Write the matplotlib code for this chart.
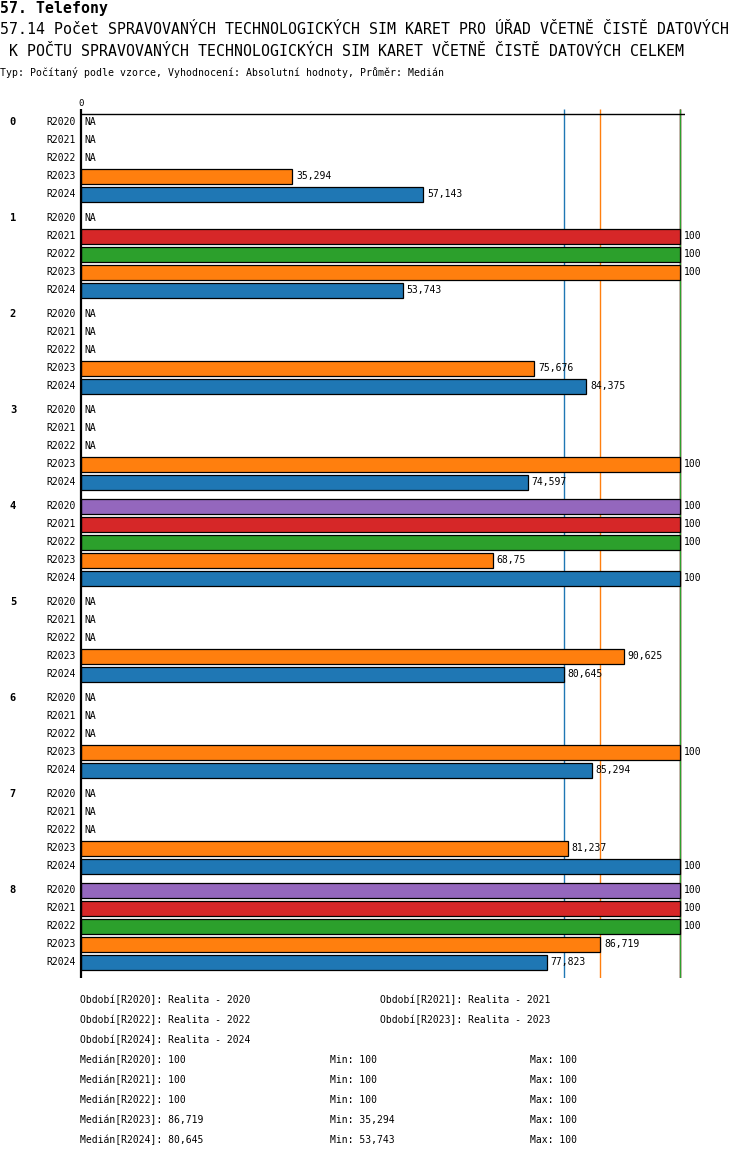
import numpy as np
import matplotlib
matplotlib.use("Agg")
import matplotlib.pyplot as plt

W, H = 750, 1158

# --- data ---
groups = ["0", "1", "2", "3", "4", "5", "6", "7", "8"]
periods = ["R2020", "R2021", "R2022", "R2023", "R2024"]
period_names = ["Realita - 2020", "Realita - 2021", "Realita - 2022",
                "Realita - 2023", "Realita - 2024"]
NA = np.nan
r2020 = [NA, NA, NA, NA, 100, NA, NA, NA, 100]
r2021 = [NA, 100, NA, NA, 100, NA, NA, NA, 100]
r2022 = [NA, 100, NA, NA, 100, NA, NA, NA, 100]
r2023 = [35.294, 100, 75.676, 100, 68.75, 90.625, 100, 81.237, 86.719]
r2024 = [57.143, 53.743, 84.375, 74.597, 100, 80.645, 85.294, 100, 77.823]
series = [r2020, r2021, r2022, r2023, r2024]
colors = ["#9467bd", "#d62728", "#2ca02c", "#ff7f0e", "#1f77b4"]

MONO = "DejaVu Sans Mono"
plt.rcParams['font.family'] = [MONO, 'DejaVu Sans']


def fmt(v):
    s = f"{v:.3f}".rstrip('0').rstrip('.')
    return s.replace('.', ',')


def fx(px):
    return px / W


def fy(py):
    return 1 - py / H


fig = plt.figure(figsize=(W / 100, H / 100), dpi=100)

# axes in pixel layout: x 81..685, y 109..978
ax_left, ax_right, ax_top, ax_bot = 81, 685, 109, 978
ax = fig.add_axes([fx(ax_left), fy(ax_bot), (ax_right - ax_left) / W,
                   (ax_bot - ax_top) / H])
xmax = 100 * (ax_right - ax_left) / (680 - ax_left)
ax.set_xlim(0, xmax)
ax.set_ylim(ax_bot, ax_top)
ax.axis('off')

row_h, gap, first = 18, 6, 122
for g, gname in enumerate(groups):
    base = first + g * (len(periods) * row_h + gap)
    fig.text(fx(13), fy(base), gname, fontsize=7.5, fontweight='bold',
             ha='center', va='center', family=MONO)
    for r, pname in enumerate(periods):
        yc = base + r * row_h
        fig.text(fx(76), fy(yc), pname, fontsize=7, ha='right', va='center',
                 family=MONO)
        v = series[r][g]
        if np.isnan(v):
            ax.text(0.5, yc, "NA", fontsize=7, ha='left', va='center',
                    family=MONO)
        else:
            ax.barh(yc, v, height=15, color=colors[r], edgecolor='black',
                    linewidth=0.9, zorder=3)
            ax.text(v + 0.6, yc, fmt(v), fontsize=7, ha='left', va='center',
                    family=MONO, zorder=4)

# median lines
medians = [np.nanmedian(s) for s in series]
mins = [np.nanmin(s) for s in series]
maxs = [np.nanmax(s) for s in series]
for m, c in zip(medians, colors):
    ax.vlines(m, ax_top, ax_bot, color=c, linewidth=1.0, zorder=2)

# frame lines
ax.hlines(114, 0, xmax, color='black', linewidth=1.0, zorder=5)
ax.vlines(0, ax_top, ax_bot, color='black', linewidth=1.6, zorder=6,
          clip_on=False)
fig.text(fx(81), fy(103), "0", fontsize=6.5, ha='center', va='center',
         family=MONO)

# titles
fig.text(fx(0), fy(8), "57. Telefony", fontsize=10.7, fontweight='bold',
         ha='left', va='center', family=MONO)
fig.text(fx(0), fy(30),
         "57.14 Počet SPRAVOVANÝCH TECHNOLOGICKÝCH SIM KARET PRO ÚŘAD VČETNĚ ČISTĚ DATOVÝCH",
         fontsize=10.7, ha='left', va='center', family=MONO)
fig.text(fx(0), fy(51),
         " K POČTU SPRAVOVANÝCH TECHNOLOGICKÝCH SIM KARET VČETNĚ ČISTĚ DATOVÝCH CELKEM",
         fontsize=10.7, ha='left', va='center', family=MONO)
fig.text(fx(0), fy(72),
         "Typ: Počítaný podle vzorce, Vyhodnocení: Absolutní hodnoty, Průměr: Medián",
         fontsize=7.1, ha='left', va='center', family=MONO)

# bottom legend
for i, (p, n) in enumerate(zip(periods, period_names)):
    x = 80 if i % 2 == 0 else 380
    y = 1000 + (i // 2) * 20
    fig.text(fx(x), fy(y), f"Období[{p}]: {n}", fontsize=7, ha='left',
             va='center', family=MONO)
for i, p in enumerate(periods):
    y = 1060 + i * 20
    fig.text(fx(80), fy(y), f"Medián[{p}]: {fmt(medians[i])}", fontsize=7,
             ha='left', va='center', family=MONO)
    fig.text(fx(330), fy(y), f"Min: {fmt(mins[i])}", fontsize=7, ha='left',
             va='center', family=MONO)
    fig.text(fx(530), fy(y), f"Max: {fmt(maxs[i])}", fontsize=7, ha='left',
             va='center', family=MONO)

fig.savefig("out.png", dpi=100)
